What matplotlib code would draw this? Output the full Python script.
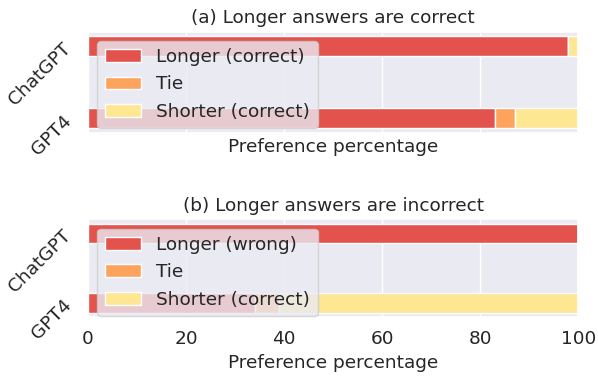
import numpy as np
import matplotlib
matplotlib.use("Agg")
import matplotlib.pyplot as plt
import seaborn as sns

models = ["ChatGPT", "GPT4"]

# (a) longer answers are correct
a_longer = [98, 83]
a_tie = [0, 4]
a_shorter = [2, 13]

# (b) longer answers are incorrect
b_longer = [100, 34]
b_tie = [0, 5]
b_shorter = [0, 61]

colors = ["#e3524c", "#fca35d", "#fee693"]

sns.set_theme(style="darkgrid")
plt.rcParams["font.family"] = ["DejaVu Sans"]
FS = 13.3

fig = plt.figure(figsize=(5.98, 3.85), dpi=100)
ax1 = fig.add_axes([0.147, 0.655, 0.82, 0.263])
ax2 = fig.add_axes([0.147, 0.177, 0.82, 0.253])


def stacked(ax, longer, tie, shorter, labels, title):
    y = np.arange(len(models))
    h = 0.28
    longer = np.array(longer); tie = np.array(tie); shorter = np.array(shorter)
    ax.barh(y, longer, height=h, color=colors[0], edgecolor="white", linewidth=1, label=labels[0])
    ax.barh(y, tie, left=longer, height=h, color=colors[1], edgecolor="white", linewidth=1, label=labels[1])
    ax.barh(y, shorter, left=longer + tie, height=h, color=colors[2], edgecolor="white", linewidth=1, label=labels[2])
    ax.set_yticks(y)
    ax.set_yticklabels(models, rotation=45, fontsize=FS)
    ax.set_ylim(1.2, -0.2)
    ax.set_xlim(0, 100)
    ax.set_xticks([0, 20, 40, 60, 80, 100])
    ax.tick_params(axis="x", labelsize=FS)
    ax.set_xlabel("Preference percentage", fontsize=FS)
    ax.set_title(title, fontsize=FS)
    ax.legend(loc="upper left", fontsize=FS)


stacked(ax1, a_longer, a_tie, a_shorter,
        ["Longer (correct)", "Tie", "Shorter (correct)"], "(a) Longer answers are correct")
stacked(ax2, b_longer, b_tie, b_shorter,
        ["Longer (wrong)", "Tie", "Shorter (correct)"], "(b) Longer answers are incorrect")
ax1.tick_params(axis="x", labelbottom=False)

fig.savefig("out.png", dpi=100)
